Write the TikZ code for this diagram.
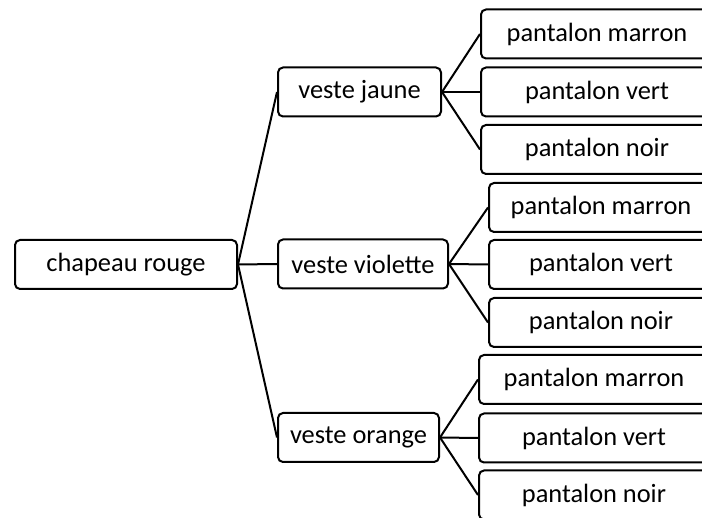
\documentclass[tikz,border=0pt]{standalone}
\usepackage{fontspec}
\setmainfont{Carlito}
\begin{document}
\begin{tikzpicture}[x=1pt,y=-1pt,
  box/.style={draw=black,line width=2pt,rounded corners=5pt,inner sep=0pt,
    font=\fontsize{26.4}{30}\selectfont,minimum height=49pt,anchor=center},
  link/.style={draw=black,line width=2pt}]
\useasboundingbox (0,0) rectangle (702,518);
\clip (0,0) rectangle (702,518);
\node[box,minimum width=222pt] (ch) at (126,264.5) {chapeau rouge};
\node[box,minimum width=163pt] (vj) at (359.5,92) {veste jaune};
\node[box,minimum width=170pt] (vv) at (363,264) {veste violette};
\node[box,minimum width=161pt] (vo) at (358.5,437.5) {veste orange};
% jaune
\node[box,minimum width=232pt] (jm) at (597,34) {pantalon marron};
\node[box,minimum width=232pt] (jv) at (597,92) {pantalon vert};
\node[box,minimum width=232pt] (jn) at (597,149.5) {pantalon noir};
% violette
\node[box,minimum width=224pt] (vm) at (601,207.5) {pantalon marron};
\node[box,minimum width=224pt] (vvv) at (601,264.5) {pantalon vert};
\node[box,minimum width=224pt] (vn) at (601,322.5) {pantalon noir};
% orange
\node[box,minimum width=230pt] (om) at (594,379.5) {pantalon marron};
\node[box,minimum width=230pt] (ov) at (594,438) {pantalon vert};
\node[box,minimum width=230pt] (on) at (594,495) {pantalon noir};
\draw[link] (ch.east) -- (vj.west);
\draw[link] (ch.east) -- (vv.west);
\draw[link] (ch.east) -- (vo.west);
\draw[link] (vj.east) -- (jm.west);
\draw[link] (vj.east) -- (jv.west);
\draw[link] (vj.east) -- (jn.west);
\draw[link] (vv.east) -- (vm.west);
\draw[link] (vv.east) -- (vvv.west);
\draw[link] (vv.east) -- (vn.west);
\draw[link] (vo.east) -- (om.west);
\draw[link] (vo.east) -- (ov.west);
\draw[link] (vo.east) -- (on.west);
\end{tikzpicture}
\end{document}
